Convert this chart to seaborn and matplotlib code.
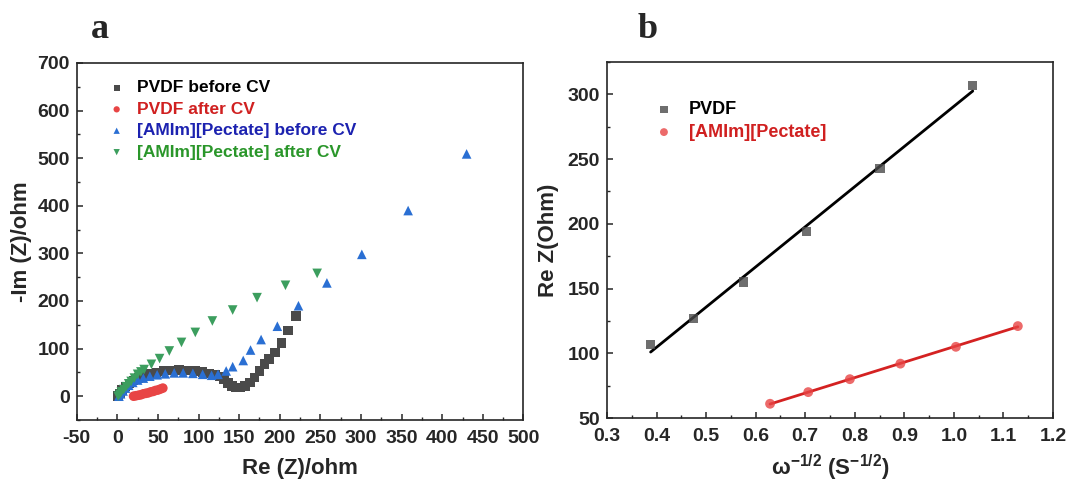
"""Nyquist plots (a) and Re Z vs omega^-1/2 (b) for PVDF and [AMIm][Pectate] binders."""

import matplotlib

matplotlib.use("Agg")
import matplotlib.pyplot as plt
import pandas as pd
import seaborn as sns
from matplotlib.ticker import MultipleLocator

# ---- panel a: Nyquist data (Re Z, -Im Z) in ohm ----
pvdf_before_x = [1, 3, 6, 10, 15, 20, 26, 33, 40, 48, 57, 66, 76, 86, 96, 105, 113, 120, 126,
                 131, 136, 141, 146, 151, 157, 163, 169, 175, 181, 187, 194, 202, 210, 220]
pvdf_before_y = [0, 6, 13, 20, 27, 33, 38, 43, 47, 50, 53, 54, 55, 54, 53, 51, 48, 45, 41,
                 35, 28, 22, 18, 18, 22, 29, 39, 53, 67, 78, 92, 112, 138, 168]
pvdf_after_x = [20, 23, 26, 29, 32, 35, 38, 41, 44, 47, 50, 53, 56]
pvdf_after_y = [0, 1, 2, 3, 5, 6, 7, 9, 10, 12, 13, 15, 17]
pect_before_x = [2, 4, 7, 10, 14, 19, 25, 32, 40, 49, 59, 70, 81, 93, 105, 116, 124, 134,
                 142, 155, 164, 177, 197, 223, 258, 301, 358, 430]
pect_before_y = [0, 5, 11, 17, 23, 29, 34, 38, 42, 45, 47, 49, 49, 48, 46, 44, 46, 53,
                 62, 75, 97, 119, 147, 190, 238, 298, 390, 509]
pect_after_x = [1, 3, 5, 8, 11, 14, 17, 21, 25, 29, 33, 42, 52, 64, 79, 96, 117, 142, 172, 207, 246]
pect_after_y = [0, 4, 9, 14, 20, 26, 31, 38, 46, 51, 56, 67, 79, 95, 113, 134, 158, 181, 207, 233, 258]

NYQ_LABELS = ["PVDF before CV", "PVDF after CV", "[AMIm][Pectate] before CV", "[AMIm][Pectate] after CV"]
NYQ_COLORS = ["#4a4a4a", "#e84545", "#2a6fd3", "#3c9e5e"]
NYQ_TEXT = ["black", "#d02020", "#1c22b0", "#2a962a"]
NYQ_MARKERS = ["s", "o", "^", "v"]

# ---- panel b: Re Z vs omega^-1/2 ----
pvdf_w = [0.388, 0.474, 0.575, 0.702, 0.851, 1.038]
pvdf_z = [107, 127, 155, 194, 243, 307]
pect_w = [0.629, 0.706, 0.790, 0.892, 1.004, 1.129]
pect_z = [61, 70, 80, 92, 105, 121]

sns.set_theme(style="ticks")
plt.rcParams.update({
    "font.family": ["Liberation Sans", "DejaVu Sans"],
    "font.weight": "bold",
    "axes.labelweight": "bold",
    "axes.linewidth": 1.2,
    "axes.unicode_minus": False,
    "xtick.direction": "in",
    "ytick.direction": "in",
    "xtick.major.size": 4,
    "ytick.major.size": 4,
    "xtick.minor.size": 2.5,
    "ytick.minor.size": 2.5,
    "xtick.major.width": 1.1,
    "ytick.major.width": 1.1,
    "xtick.minor.width": 1.0,
    "ytick.minor.width": 1.0,
    "xtick.major.pad": 7,
    "ytick.major.pad": 5,
    "xtick.labelsize": 14,
    "ytick.labelsize": 14,
    "mathtext.fontset": "custom",
    "mathtext.rm": "Liberation Sans:bold",
    "mathtext.bf": "Liberation Sans:bold",
    "mathtext.default": "bf",
})

fig = plt.figure(figsize=(10.67, 4.86), dpi=100)
ax_a = fig.add_axes([0.0719, 0.1358, 0.4187, 0.7346])
ax_b = fig.add_axes([0.5689, 0.1399, 0.418, 0.7325])

# panel a
series = [
    (pvdf_before_x, pvdf_before_y),
    (pvdf_after_x, pvdf_after_y),
    (pect_before_x, pect_before_y),
    (pect_after_x, pect_after_y),
]
for (xs, ys), label, color, marker in zip(series, NYQ_LABELS, NYQ_COLORS, NYQ_MARKERS):
    df = pd.DataFrame({"re": xs, "im": ys})
    sns.scatterplot(data=df, x="re", y="im", marker=marker, color=color, s=48,
                    edgecolor="none", label=label, ax=ax_a)

ax_a.set_xlim(-50, 500)
ax_a.set_ylim(-50, 700)
ax_a.xaxis.set_major_locator(MultipleLocator(50))
ax_a.xaxis.set_minor_locator(MultipleLocator(25))
ax_a.yaxis.set_major_locator(MultipleLocator(100))
ax_a.yaxis.set_minor_locator(MultipleLocator(50))
ax_a.set_xlabel("Re (Z)/ohm", fontsize=16, labelpad=8)
ax_a.set_ylabel("-Im (Z)/ohm", fontsize=16, labelpad=4)
leg = ax_a.legend(loc="upper left", frameon=False, fontsize=12.5, handlelength=0.8,
                  handletextpad=0.8, labelspacing=0.36, borderaxespad=0.6,
                  bbox_to_anchor=(0.035, 1.0), markerscale=0.65)
for text, c in zip(leg.get_texts(), NYQ_TEXT):
    text.set_color(c)

# panel b
df_pvdf = pd.DataFrame({"w": pvdf_w, "z": pvdf_z})
df_pect = pd.DataFrame({"w": pect_w, "z": pect_z})
sns.regplot(data=df_pvdf, x="w", y="z", ci=None, marker="s", ax=ax_b,
            scatter_kws={"s": 45, "color": "#4a4a4a", "edgecolors": "none", "zorder": 3},
            line_kws={"color": "black", "lw": 2}, label="PVDF")
sns.regplot(data=df_pect, x="w", y="z", ci=None, marker="o", ax=ax_b,
            scatter_kws={"s": 50, "color": "#e84545", "edgecolors": "none", "zorder": 3},
            line_kws={"color": "#d42222", "lw": 2}, label="[AMIm][Pectate]")

ax_b.set_xlim(0.3, 1.2)
ax_b.set_ylim(50, 325)
ax_b.xaxis.set_major_locator(MultipleLocator(0.1))
ax_b.xaxis.set_minor_locator(MultipleLocator(0.05))
ax_b.yaxis.set_major_locator(MultipleLocator(50))
ax_b.yaxis.set_minor_locator(MultipleLocator(25))
ax_b.set_xlabel("ω$^{-1/2}$ (S$^{-1/2}$)", fontsize=16, labelpad=6)
ax_b.set_ylabel("Re Z(Ohm)", fontsize=16, labelpad=6)
scatter_handles = [c for c in ax_b.collections][:2]
leg_b = ax_b.legend(scatter_handles, ["PVDF", "[AMIm][Pectate]"], loc="upper left",
                    frameon=False, fontsize=13, handlelength=0.8, handletextpad=1.0,
                    labelspacing=0.3, bbox_to_anchor=(0.075, 0.935), markerscale=0.8)
for text, c in zip(leg_b.get_texts(), ["black", "#d02020"]):
    text.set_color(c)

for ax in (ax_a, ax_b):
    ax.tick_params(which="both", top=False, right=False)
    for lab in ax.get_xticklabels() + ax.get_yticklabels():
        lab.set_fontweight("bold")

fig.text(0.094, 0.94, "a", fontsize=26, fontweight="bold", family="Liberation Serif",
         ha="center", va="center")
fig.text(0.607, 0.94, "b", fontsize=26, fontweight="bold", family="Liberation Serif",
         ha="center", va="center")

fig.savefig("out.png", dpi=100)
